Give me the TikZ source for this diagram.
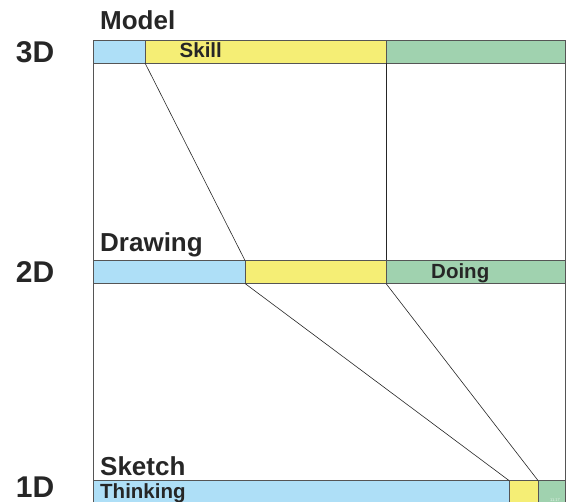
\documentclass[tikz,border=0pt]{standalone}
\usepackage{fontspec}
\setmainfont{Liberation Sans}
\definecolor{cblue}{HTML}{AEDFF7}
\definecolor{cyellow}{HTML}{F5EE75}
\definecolor{cgreen}{HTML}{A0D2AF}
\definecolor{cedge}{HTML}{555555}
\begin{document}
\begin{tikzpicture}[x=1pt,y=-1pt,
  seg/.style={draw=cedge, line width=0.9pt, rectangle, inner sep=0pt, outer sep=0pt, anchor=north west, minimum height=23pt},
  conn/.style={draw=black!85, line width=0.6pt},
  frame/.style={draw=cedge, line width=0.9pt},
  title/.style={font=\fontsize{26}{26}\selectfont\bfseries, text=black!85, anchor=base west, inner sep=0pt},
  inlbl/.style={font=\fontsize{20.5}{20.5}\selectfont\bfseries, text=black!85, anchor=base west, inner sep=0pt},
  dim/.style={font=\fontsize{30}{30}\selectfont\bfseries, text=black!85, anchor=base, inner sep=0pt}]
\useasboundingbox (0,0) rectangle (570,502);
\begin{scope}
\clip (0,0) rectangle (570,502);
% 3D bar
\node[seg, fill=cblue, minimum width=52pt] (b3) at (93,40) {};
\node[seg, fill=cyellow, minimum width=241pt] (y3) at (145,40) {};
\node[seg, fill=cgreen, minimum width=179pt] (g3) at (386,40) {};
% 2D bar
\node[seg, fill=cblue, minimum width=152pt] (b2) at (93,260.5) {};
\node[seg, fill=cyellow, minimum width=141pt] (y2) at (245,260.5) {};
\node[seg, fill=cgreen, minimum width=179pt] (g2) at (386,260.5) {};
% 1D bar
\node[seg, fill=cblue, minimum width=416pt, minimum height=26pt] (b1) at (93,480.5) {};
\node[seg, fill=cyellow, minimum width=29pt, minimum height=26pt] (y1) at (509,480.5) {};
\node[seg, fill=cgreen, minimum width=27pt, minimum height=26pt] (g1) at (538,480.5) {};
\end{scope}
% frame
\draw[frame] (b3.south west) -- (b2.north west);
\draw[frame] (g3.south east) -- (g2.north east);
\draw[frame] (b2.south west) -- (b1.north west);
\draw[frame] (g2.south east) -- (g1.north east);
% connectors
\draw[conn] (y3.south west) -- (y2.north west);
\draw[conn] (y3.south east) -- (y2.north east);
\draw[conn] (y2.south west) -- (y1.north west);
\draw[conn] (y2.south east) -- (y1.north east);
% titles
\node[title] (tmodel) at (100,30) {Model};
\node[title] (tdrawing) at (100,251.5) {Drawing};
\node[title] (tsketch) at (100,475) {Sketch};
% inner labels
\node[inlbl] (lskill) at (179.5,57.5) {Skill};
\node[inlbl] (ldoing) at (431,279) {Doing};
\node[inlbl] (lthink) at (100,498) {Thinking};
% dimension labels
\node[dim] (d3) at (35,62.5) {3D};
\node[dim] (d2) at (35,282.5) {2D};
\node[dim] (d1) at (35,497.5) {1D};
% tiny code
\node[font=\fontsize{4}{4}\selectfont, text=white!75!cgreen, inner sep=0pt, anchor=base west] (code) at (550,501) {11.17};
\end{tikzpicture}
\end{document}
